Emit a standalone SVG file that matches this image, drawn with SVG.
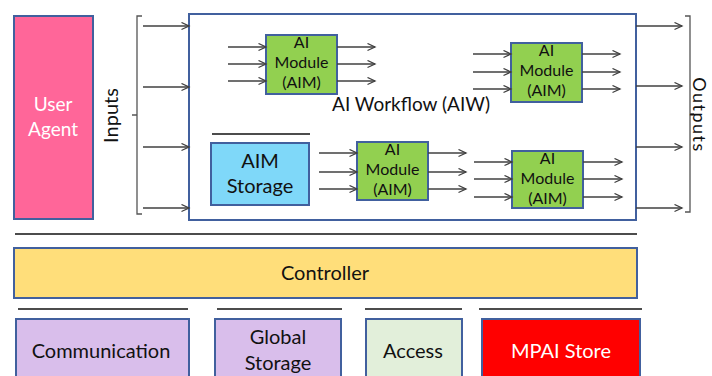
<svg xmlns="http://www.w3.org/2000/svg" width="712" height="376" viewBox="0 0 712 376">
<style>
.box{stroke:#41609E;stroke-width:2}
.t{font-family:Lato,"Liberation Sans",sans-serif;fill:#111;text-anchor:middle}
.w{fill:#fff}
.ar{stroke:#404040;stroke-width:1.3;fill:none;marker-end:url(#ah)}
.sep{stroke:#111;stroke-width:1.6}
.br{stroke:#555;stroke-width:1.3;fill:none}
</style>
<defs>
<marker id="ah" markerUnits="userSpaceOnUse" markerWidth="10" markerHeight="10" refX="8" refY="4" orient="auto">
<path d="M0.5,0.5 L8,4 L0.5,7.5" fill="none" stroke="#404040" stroke-width="1.3"/>
</marker>
</defs>
<rect width="712" height="376" fill="#fff"/>

<g id="user-agent">
<rect class="box" x="14" y="16" width="79" height="203" fill="#FF6699"/>
<text class="t w" x="53" y="111" font-size="19">User</text>
<text class="t w" x="53" y="136" font-size="19">Agent</text>
</g>

<g id="inputs-label">
<text class="t" transform="translate(118,115.5) rotate(-90)" font-size="20">Inputs</text>
<path class="br" d="M142,16 H137 V214 H142 M137,115 H132"/>
</g>

<g id="aiw">
<rect class="box" x="189" y="14" width="447" height="206" fill="#fff"/>
<text class="t" x="411" y="111" font-size="19">AI Workflow (AIW)</text>
</g>

<g id="aim-1">
<rect class="box" x="266" y="35" width="71" height="59" fill="#92D050"/>
<text class="t" x="301.5" y="48" font-size="16">AI</text>
<text class="t" x="301.5" y="68" font-size="16">Module</text>
<text class="t" x="301.5" y="88" font-size="16">(AIM)</text>
</g>

<g id="aim-2">
<rect class="box" x="511" y="43" width="71" height="59" fill="#92D050"/>
<text class="t" x="546.5" y="56" font-size="16">AI</text>
<text class="t" x="546.5" y="76" font-size="16">Module</text>
<text class="t" x="546.5" y="96" font-size="16">(AIM)</text>
</g>

<g id="aim-storage">
<line class="sep" x1="212" y1="134" x2="310" y2="134"/>
<rect class="box" x="211" y="143" width="98" height="62" fill="#7FD8F9"/>
<text class="t" x="260" y="168" font-size="20">AIM</text>
<text class="t" x="260" y="193" font-size="20">Storage</text>
</g>

<g id="aim-3">
<rect class="box" x="357" y="142" width="71" height="58" fill="#92D050"/>
<text class="t" x="392.5" y="155" font-size="16">AI</text>
<text class="t" x="392.5" y="175" font-size="16">Module</text>
<text class="t" x="392.5" y="195" font-size="16">(AIM)</text>
</g>

<g id="aim-4">
<rect class="box" x="512" y="151" width="71" height="57" fill="#92D050"/>
<text class="t" x="547.5" y="164" font-size="16">AI</text>
<text class="t" x="547.5" y="184" font-size="16">Module</text>
<text class="t" x="547.5" y="204" font-size="16">(AIM)</text>
</g>

<g id="outputs-label">
<path class="br" d="M685,16 H690 V212 H685 M690,114 H694"/>
<text class="t" transform="translate(693,115) rotate(90)" font-size="18" letter-spacing="1.5">Outputs</text>
</g>

<g id="connectors">
<line class="ar" x1="143" y1="26" x2="189" y2="26"/>
<line class="ar" x1="143" y1="87" x2="189" y2="87"/>
<line class="ar" x1="143" y1="147" x2="189" y2="147"/>
<line class="ar" x1="143" y1="208" x2="189" y2="208"/>

<line class="ar" x1="228" y1="47" x2="266" y2="47"/>
<line class="ar" x1="228" y1="64" x2="266" y2="64"/>
<line class="ar" x1="228" y1="81" x2="266" y2="81"/>
<line class="ar" x1="337" y1="47" x2="375" y2="47"/>
<line class="ar" x1="337" y1="64" x2="375" y2="64"/>
<line class="ar" x1="337" y1="81" x2="375" y2="81"/>

<line class="ar" x1="473" y1="54" x2="511" y2="54"/>
<line class="ar" x1="473" y1="72" x2="511" y2="72"/>
<line class="ar" x1="473" y1="89" x2="511" y2="89"/>
<line class="ar" x1="582" y1="54" x2="620" y2="54"/>
<line class="ar" x1="582" y1="72" x2="620" y2="72"/>
<line class="ar" x1="582" y1="89" x2="620" y2="89"/>

<line class="ar" x1="319" y1="153" x2="357" y2="153"/>
<line class="ar" x1="319" y1="172" x2="357" y2="172"/>
<line class="ar" x1="319" y1="189" x2="357" y2="189"/>
<line class="ar" x1="428" y1="153" x2="466" y2="153"/>
<line class="ar" x1="428" y1="172" x2="466" y2="172"/>
<line class="ar" x1="428" y1="189" x2="466" y2="189"/>

<line class="ar" x1="474" y1="162" x2="512" y2="162"/>
<line class="ar" x1="474" y1="179" x2="512" y2="179"/>
<line class="ar" x1="474" y1="197" x2="512" y2="197"/>
<line class="ar" x1="583" y1="162" x2="622" y2="162"/>
<line class="ar" x1="583" y1="179" x2="622" y2="179"/>
<line class="ar" x1="583" y1="197" x2="622" y2="197"/>

<line class="ar" x1="636" y1="26" x2="682" y2="26"/>
<line class="ar" x1="636" y1="86" x2="682" y2="86"/>
<line class="ar" x1="636" y1="147" x2="682" y2="147"/>
<line class="ar" x1="636" y1="208" x2="682" y2="208"/>
</g>

<g id="separators">
<line class="sep" x1="15" y1="234" x2="637" y2="234"/>
<line class="sep" x1="18" y1="309" x2="188" y2="309"/>
<line class="sep" x1="217" y1="309" x2="342" y2="309"/>
<line class="sep" x1="365" y1="309" x2="462" y2="309"/>
<line class="sep" x1="479" y1="309" x2="642" y2="309"/>
</g>

<g id="controller">
<rect class="box" x="14" y="248" width="623" height="50" fill="#FFDE7A"/>
<text class="t" x="325" y="280" font-size="20">Controller</text>
</g>

<g id="communication">
<rect class="box" x="16" y="319" width="173" height="62" fill="#D9BEEB"/>
<text class="t" x="101" y="358" font-size="20">Communication</text>
</g>

<g id="global-storage">
<rect class="box" x="215" y="319" width="126" height="62" fill="#D9BEEB"/>
<text class="t" x="278" y="344" font-size="20">Global</text>
<text class="t" x="278" y="370" font-size="20">Storage</text>
</g>

<g id="access">
<rect class="box" x="366" y="319" width="96" height="62" fill="#E2EFDA"/>
<text class="t" x="413" y="358" font-size="20">Access</text>
</g>

<g id="mpai-store">
<rect class="box" x="482" y="319" width="158" height="62" fill="#FF0000"/>
<text class="t w" x="561" y="358" font-size="20">MPAI Store</text>
</g>
</svg>
